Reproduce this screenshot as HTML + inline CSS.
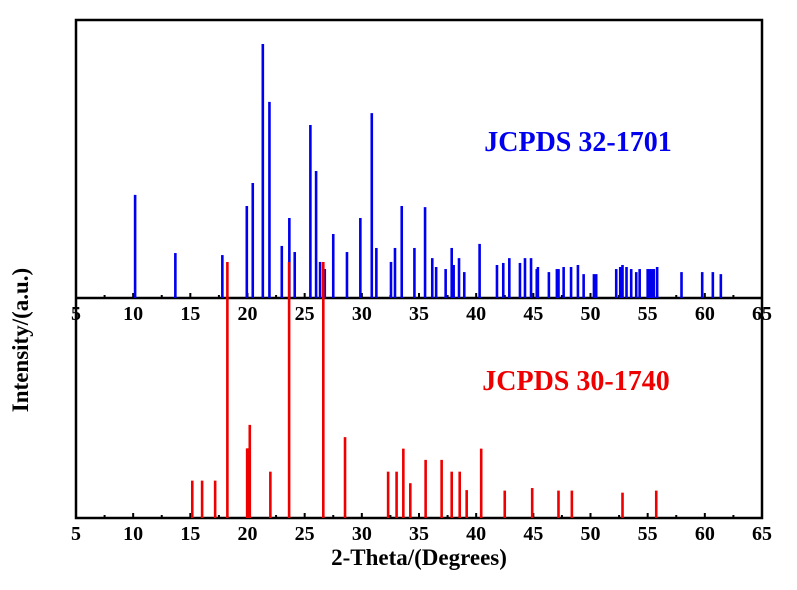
<!DOCTYPE html>
<html><head><meta charset="utf-8"><style>
html,body{margin:0;padding:0;background:#fff;}
svg{display:block;font-family:"Liberation Serif",serif;font-weight:bold;}
</style></head><body>
<svg id="chart" width="797" height="590" viewBox="0 0 797 590" xmlns="http://www.w3.org/2000/svg">
<g id="axes"></g><g id="blue"></g><g id="red"></g><g id="lbl"></g>
<text x="0" y="0" transform="translate(28,340) rotate(-90)" text-anchor="middle" font-size="23">Intensity/(a.u.)</text>
<text x="419" y="565" text-anchor="middle" font-size="23">2-Theta/(Degrees)</text>
<text x="578" y="151" text-anchor="middle" font-size="28" fill="#0000ee">JCPDS 32-1701</text>
<text x="576" y="390" text-anchor="middle" font-size="28" fill="#ee0000">JCPDS 30-1740</text>
</svg>
<script>
const xTicks=[5,10,15,20,25,30,35,40,45,50,55,60,65];
const blueTheta=[10.17,13.69,17.8,19.94,20.46,21.34,21.92,23.0,23.66,24.13,25.5,26.0,26.35,26.76,27.5,28.7,29.87,30.87,31.27,32.55,32.9,33.49,34.6,35.53,36.16,36.5,37.33,37.86,38.03,38.5,38.96,40.3,41.82,42.37,42.9,43.83,44.27,44.8,45.3,45.4,46.36,47.06,47.2,47.65,48.3,48.9,49.4,50.3,50.5,52.25,52.6,52.8,53.15,53.56,54.0,54.3,55.0,55.17,55.35,55.54,55.83,57.96,59.77,60.7,61.4];
const blueInt=[40.6,17.7,16.9,36.2,45.3,100,77.2,20.5,31.5,18.1,68.1,50,14.2,11.4,25.2,18.1,31.5,72.8,19.7,14.2,19.7,36.2,19.7,35.8,15.7,12.2,11.4,19.7,13,15.7,10.2,21.3,13,13.8,15.7,13.8,15.7,15.7,11.4,12.2,10.2,11.4,11.4,12.2,12.2,13,9.4,9.4,9.4,11.4,12.2,13,12.2,11.4,10.2,11.4,11.4,11.4,11.4,11.4,12.2,10.2,10.2,10.2,9.4];
const redTheta=[15.17,16.03,17.17,18.24,19.97,20.08,20.2,22.0,23.64,26.63,28.53,32.3,33.04,33.63,34.24,35.58,36.98,37.86,38.56,39.17,40.44,42.5,44.9,47.2,48.37,52.8,55.75];
const redInt=[14.6,14.6,14.6,100,27.2,27.2,36.4,18.1,100,100,31.6,18.1,18.1,27.1,13.6,22.7,22.7,18.1,18.1,10.9,27.1,10.7,11.7,10.7,10.7,9.9,10.7];

const NS="http://www.w3.org/2000/svg";
const X0=76,X1=762,T0=5,T1=65;
const xs=t=>X0+(t-T0)*(X1-X0)/(T1-T0);
const blueBase=298,blueH=254,redBase=518,redH=256;
const yB=v=>blueBase-v/100*blueH;
const yR=v=>redBase-v/100*redH;
function mk(tag,attrs,parent){const e=document.createElementNS(NS,tag);for(const k in attrs)e.setAttribute(k,attrs[k]);parent.appendChild(e);return e;}
const axes=document.getElementById('axes'),lbl=document.getElementById('lbl');
let fr=mk('rect',{x:X0,y:20,width:X1-X0,height:redBase-20,fill:'none',stroke:'#000','stroke-width':2.5},axes);


let mid=mk('line',{x1:X0,x2:X1,y1:blueBase,y2:blueBase,stroke:'#000','stroke-width':2.5},axes);


[blueBase,redBase].forEach((base,bi)=>{
  xTicks.forEach((t,i)=>{
    const x=xs(t);
    const tk=mk('line',{x1:x,x2:x,y1:base,y2:base-5,stroke:'#000','stroke-width':2},axes);
    
    
    if(i<xTicks.length-1){
      const xm=xs(t+2.5);
      const mt=mk('line',{x1:xm,x2:xm,y1:base,y2:base-3,stroke:'#000','stroke-width':2},axes);
      
      
    }
    const tx=mk('text',{x:x,y:base+22,'text-anchor':'middle','font-size':20},lbl);
    tx.textContent=t;
    
    
  });
});
const bg=document.getElementById('blue');
blueTheta.forEach((t,i)=>{
  const x=xs(t);
  const b=mk('line',{x1:x,x2:x,y1:blueBase,y2:yB(blueInt[i]),stroke:'#0000ee','stroke-width':2.6},bg);
  
  
});
const rg=document.getElementById('red');
redTheta.forEach((t,i)=>{
  const x=xs(t);
  const b=mk('line',{x1:x,x2:x,y1:redBase,y2:yR(redInt[i]),stroke:'#ee0000','stroke-width':2.6},rg);
  
  
});
</script>
</body></html>
